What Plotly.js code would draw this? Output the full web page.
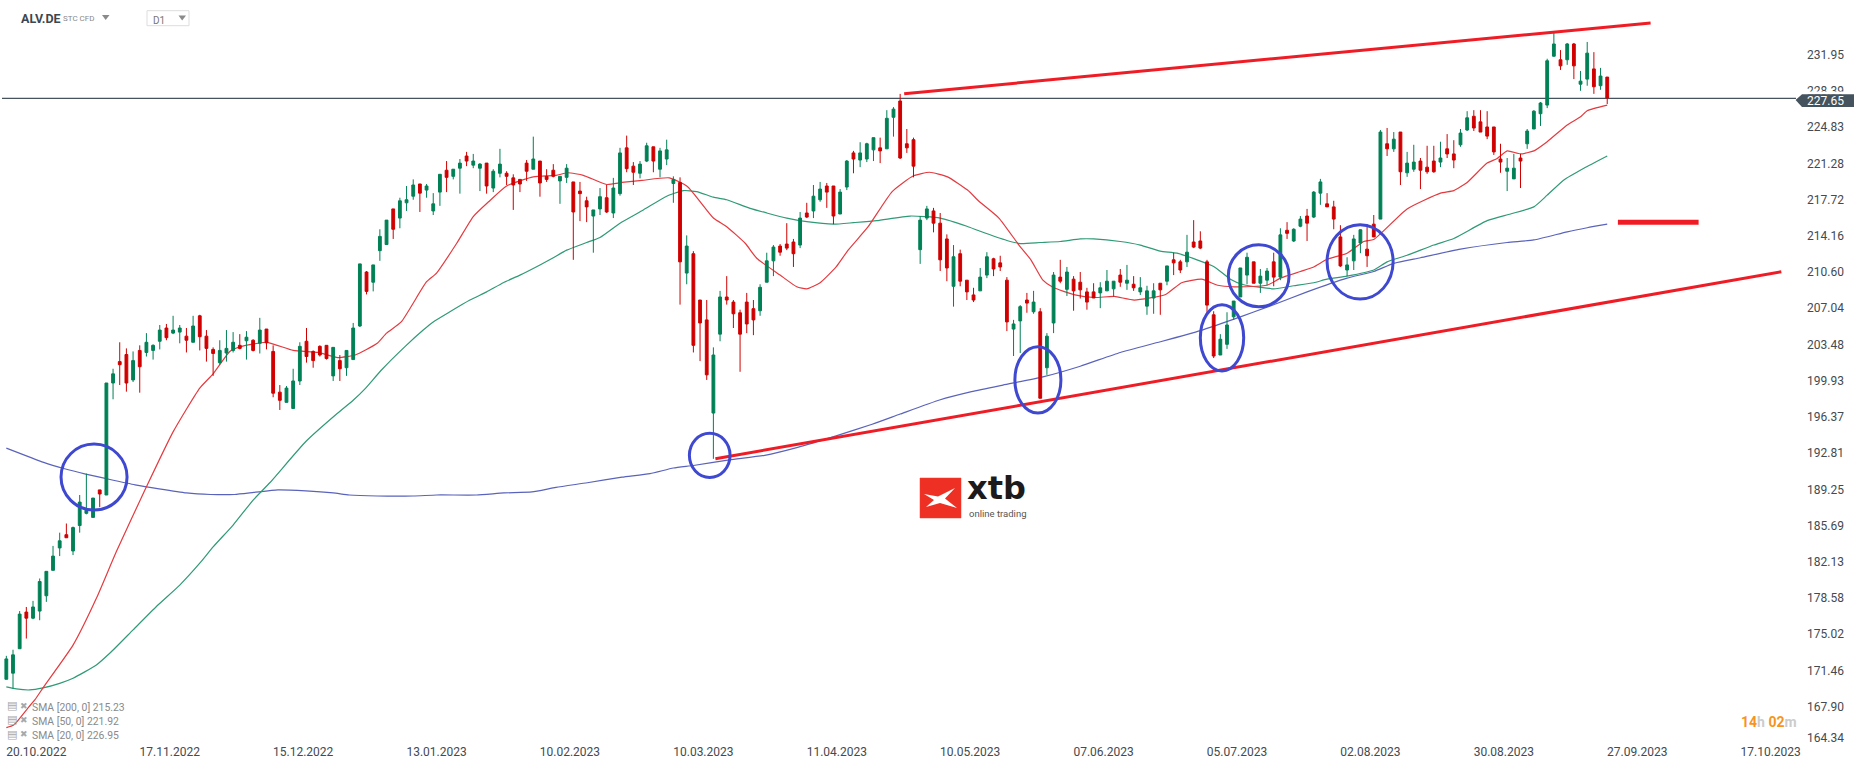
<!DOCTYPE html>
<html><head><meta charset="utf-8">
<script src="https://cdn.plot.ly/plotly-3.0.1.min.js"></script>
<style>html,body{margin:0;padding:0;background:#fff}#chart{width:1866px;height:767px}</style>
</head><body><div id="chart"></div>
<script>
const opens=[170.6,171.2,173.6,177.2,176.6,177.3,178.8,181.3,183.5,184.8,
183.2,185.7,186.9,186.5,189.2,188.7,199.7,201.8,202.5,200.0,
202.9,202.7,202.9,203.8,205.1,204.6,204.7,204.3,203.7,206.3,
204.3,203.0,201.7,202.65,202.9,203.4,203.85,203.9,203.6,205.0,
202.8,198.8,197.8,197.2,199.9,203.8,202.8,203.3,203.4,200.4,
201.9,201.2,202.0,205.3,210.6,209.6,212.7,213.3,216.8,215.9,
217.4,218.05,219.25,218.65,216.6,218.45,220.6,220.0,220.8,222.0,
221.1,220.8,221.3,218.85,220.3,220.3,219.85,219.7,221.3,220.7,
221.5,220.0,220.6,219.55,219.9,219.45,218.55,217.6,216.1,216.8,
217.9,216.4,218.3,222.8,221.0,220.3,221.5,222.9,220.7,221.7,
219.3,219.4,210.5,212.4,207.85,205.9,196.75,204.5,208.15,207.65,
206.6,207.65,207.0,206.8,209.6,211.7,213.15,213.35,213.55,213.25,
216.4,216.6,217.7,219.05,219.05,216.3,218.95,222.3,221.6,221.7,
222.6,222.8,222.7,225.8,227.4,223.2,223.6,212.8,215.9,216.6,
215.4,213.85,209.2,212.4,209.8,208.35,208.75,210.3,211.9,211.5,
209.8,205.0,205.8,207.85,206.7,206.7,201.2,205.6,210.1,208.9,
209.9,209.6,208.65,208.65,208.55,208.75,208.95,210.3,209.5,209.4,
208.65,207.25,208.05,209.5,209.7,211.8,211.6,211.6,213.55,213.65,
211.6,206.4,202.45,203.5,206.2,208.15,210.3,211.6,209.5,209.8,
211.6,210.1,214.7,213.65,215.1,216.1,216.0,218.35,217.3,217.0,
214.05,210.8,211.7,213.45,212.85,215.3,215.8,223.2,222.7,224.35,
220.35,220.7,221.5,220.9,221.5,221.4,222.7,222.2,223.1,224.55,
225.9,225.35,224.85,224.85,221.7,220.5,219.75,221.8,223.2,224.65,
226.15,227.0,231.8,231.45,231.45,233.0,229.05,229.55,230.55,228.9,229.75];
const highs=[172.9,173.5,177.3,177.7,178.3,180.5,181.2,183.7,185.0,185.9,
185.6,188.7,190.8,188.4,189.2,199.7,201.1,203.7,203.1,202.8,
203.4,204.6,203.5,205.4,205.5,206.3,205.4,205.1,206.3,206.4,
204.9,203.2,203.9,204.9,204.7,204.5,204.8,204.0,206.1,205.0,
203.4,199.5,199.4,201.1,203.7,205.1,202.9,203.4,203.4,203.2,
202.45,202.9,205.6,211.4,210.7,211.3,214.8,215.7,216.8,217.9,
219.05,219.7,219.25,219.25,218.35,220.2,221.5,220.7,221.7,222.4,
222.2,221.3,221.3,220.7,222.7,220.5,220.2,219.7,221.6,223.9,
221.5,220.7,221.2,220.0,221.2,219.45,219.45,218.0,216.7,218.85,
219.15,219.85,222.8,224.0,221.4,221.5,223.3,222.9,222.8,223.6,
220.0,219.9,214.2,212.65,207.85,207.85,203.2,208.75,210.2,207.85,
206.9,208.55,207.85,209.4,212.5,213.25,213.35,215.4,213.85,216.5,
217.4,219.15,219.45,219.35,219.05,218.75,221.6,222.5,223.35,223.3,
223.8,223.8,226.5,226.8,228.1,224.65,223.8,216.1,217.1,216.9,
216.4,214.3,213.25,212.8,209.8,209.05,211.0,212.55,212.0,212.2,
210.1,205.9,207.35,208.55,208.75,207.05,204.6,210.6,211.8,211.1,
210.2,210.6,209.05,209.5,209.6,210.8,209.7,210.9,211.3,210.2,
210.1,209.25,209.5,209.5,211.2,212.5,211.8,214.25,215.7,214.6,
211.8,206.75,204.5,206.65,207.75,211.0,212.5,211.6,210.9,211.0,
212.5,214.9,215.5,214.9,216.1,216.8,218.55,219.75,218.35,217.6,
215.2,212.05,214.25,214.8,215.3,216.2,224.55,224.75,224.35,224.35,
222.4,223.1,221.8,223.0,223.0,223.4,224.15,223.55,224.65,226.4,
226.5,226.5,226.4,224.85,223.2,221.8,222.2,222.2,224.65,226.5,
227.3,231.55,234.2,232.4,233.1,233.1,230.35,233.2,232.2,230.65,229.75];
const lows=[170.6,169.7,173.6,174.6,176.5,176.4,178.2,181.3,182.7,184.5,
182.8,185.0,186.8,186.5,187.5,188.7,198.1,199.5,198.85,199.8,
198.75,202.3,202.0,203.0,203.9,204.5,203.6,202.7,203.7,202.9,
201.8,200.4,201.5,201.8,202.7,203.0,202.0,202.8,202.6,203.0,
198.3,197.05,197.8,197.2,199.5,201.7,201.2,202.3,202.0,199.9,
199.9,200.4,202.0,205.2,208.4,208.7,211.7,213.3,213.85,214.9,
216.6,217.7,216.5,217.9,216.2,217.1,218.45,219.7,218.3,221.0,
220.8,218.55,218.3,218.45,219.9,219.15,216.7,218.45,219.55,220.7,
218.0,219.45,219.9,217.3,219.35,211.8,215.6,215.5,212.5,216.2,
216.4,215.9,218.1,220.4,219.15,219.8,221.4,220.4,219.9,221.1,
217.4,207.4,209.4,202.7,201.85,200.0,192.25,203.8,207.4,205.1,
200.8,204.6,204.4,206.3,209.6,210.2,212.2,212.75,211.1,212.95,
215.9,215.9,217.5,216.9,215.3,216.3,218.65,220.3,220.9,221.4,
221.5,221.3,222.7,223.9,221.7,222.3,219.9,211.4,215.7,214.5,
210.7,209.7,207.2,209.2,207.85,207.65,208.75,210.0,210.2,210.7,
204.8,202.35,202.65,206.6,206.5,198.2,200.5,204.6,209.5,208.25,
206.8,208.0,206.9,208.05,207.05,208.75,208.15,209.15,208.85,208.75,
208.35,206.4,206.5,206.4,209.3,210.3,210.5,211.1,212.95,212.85,
206.4,202.15,202.45,203.05,205.9,208.15,209.4,209.5,208.55,209.3,
209.2,209.8,213.85,213.55,215.0,213.65,215.9,217.2,217.0,214.8,
211.1,210.2,210.8,212.45,211.1,214.05,215.8,222.0,222.4,219.15,
219.95,220.45,218.75,220.25,220.35,220.9,221.8,220.8,222.9,224.45,
224.45,224.35,223.65,222.1,220.35,218.55,219.75,218.85,222.7,224.65,
224.95,226.7,231.75,230.45,230.95,229.55,228.4,228.9,228.1,228.5,227.1];
const closes=[172.6,173.0,177.0,176.6,177.7,180.2,181.2,182.7,184.2,184.5,
185.5,188.0,187.2,188.4,188.8,199.7,200.6,201.5,199.7,201.9,
201.3,203.7,203.4,204.9,204.15,204.9,205.1,203.9,205.3,204.25,
203.1,202.6,202.9,203.1,203.7,203.1,204.2,202.9,204.9,203.65,
198.7,198.0,199.2,199.9,203.3,202.3,201.9,202.45,202.1,203.2,
201.1,202.9,205.1,211.4,208.7,211.3,214.1,215.7,214.8,217.6,
217.7,219.15,218.35,219.05,217.3,220.2,219.9,220.7,221.3,221.5,
221.5,221.2,219.05,220.5,221.2,220.0,219.15,219.25,220.5,221.7,
219.35,219.7,220.0,220.0,220.8,216.5,218.3,217.0,216.7,218.0,
216.5,218.85,222.3,220.75,220.4,221.2,223.0,221.5,222.5,222.6,
219.7,211.6,213.15,203.4,205.6,200.5,202.45,208.15,207.85,206.5,
204.5,205.5,205.9,209.1,211.7,213.05,212.55,212.95,212.4,215.9,
216.0,218.05,218.75,218.45,216.1,218.45,221.5,221.7,222.3,223.2,
223.8,222.5,225.7,226.6,221.8,222.8,221.0,215.7,216.8,215.4,
211.8,211.0,212.1,209.7,208.65,207.85,210.1,212.1,210.9,211.1,
205.7,205.5,207.2,207.55,207.65,198.2,204.3,210.3,209.7,210.6,
208.75,208.85,207.65,208.05,209.05,209.7,209.7,209.6,209.8,209.05,
209.05,208.75,208.75,208.85,211.2,211.5,210.8,212.55,213.05,212.95,
207.35,202.35,204.0,205.4,207.75,211.0,212.05,209.5,210.2,210.7,
210.1,214.25,214.4,214.8,215.8,215.4,218.45,219.45,217.0,215.8,
211.2,211.3,213.85,214.75,212.2,214.05,224.35,222.7,223.65,220.45,
221.3,221.4,220.6,220.45,220.45,221.8,222.2,221.6,224.25,225.75,
224.75,224.35,223.95,222.4,221.4,220.8,220.8,221.5,224.45,226.4,
227.2,231.35,233.0,230.85,233.0,230.85,229.35,232.1,228.8,229.85,227.7];

const sma200Bars=[0,5.6,8.6,11.9,15,19.3,22.9,27,30.6,34.2,37.1,40.7,44.9,49,51.4,55.6,61,64.5,70.5,74.6,78.8,82.4,87.1,92.3,96.5,100,103,108.4,113.7,118.5,124.4,129.8,134,139.9,144.7,149.4,155.4,161,167,173,179,185,189,195,201,205,208,212,218,225,229,234,237,240];
const sma200=[193.3,191.9,191.3,190.75,190.3,189.7,189.3,188.9,188.75,188.75,188.95,189.2,189.1,188.9,188.7,188.6,188.6,188.7,188.7,188.9,189.0,189.45,189.9,190.45,190.8,191.35,191.6,192.15,192.6,193.35,194.5,195.65,196.65,198.03,198.85,199.5,200.3,201.35,202.7,203.75,204.85,206.2,207.15,208.65,210.0,210.65,211.45,212.0,212.85,213.5,213.75,214.55,214.95,215.3];
const sma50Bars=[0,1.5,3.5,5.5,8,10,13.5,15.5,19,22.5,26,29,31,34,37,39.5,44.9,49.6,52,53.8,56.2,59.8,62.5,64,66.5,69.5,72,74.5,77,80,82,84,87,89,92,95.5,99,101.5,103.5,106,108,111.5,114,117,120,124,127,130.5,135.5,140,144,146,150,152,155,158,161,163,167,170,173,175.5,178.5,181,183.5,185.5,190,193,196,198,201,205,207,210,214,217,222,225.5,229,231,233.5,236.5,240];
const sma50=[169.85,169.65,169.55,169.75,170.2,170.7,172.0,173.15,175.45,177.75,179.85,182.0,183.6,185.75,188.2,189.9,193.95,196.7,198.0,199.15,200.95,203.3,204.9,205.7,206.7,207.85,208.65,209.55,210.3,211.3,212.0,212.75,213.5,214.0,215.4,216.7,218.05,218.6,218.5,217.95,217.7,216.85,216.4,215.9,215.55,215.3,215.45,215.65,216.1,215.9,215.1,214.6,213.7,213.4,213.5,213.6,213.85,213.85,213.6,213.25,212.65,212.45,211.8,211.15,209.9,209.35,208.95,209.25,209.55,209.9,210.2,210.8,211.6,212.25,213.25,213.9,215.65,216.3,217.0,218.15,219.65,220.8,222.0];
const sma20Bars=[0,1.1,3.2,4.3,5.6,10,13.5,16.5,21,25,29,31,33.5,35,39,43,46.7,49.7,52.3,55.6,57,59.2,63,64.5,67.5,70,72.3,75,79,82.4,84.2,86.5,90,92.3,95.3,99.4,102.1,106,108,110.8,112.5,116,118.5,120,122,124.4,126.2,129.2,132.8,136,138.4,141.1,144.1,145.9,148.8,151.8,153.6,155.4,156.9,160.2,163.1,166.1,169.1,173.8,176.2,179.2,181.6,184,189,191,194,196,198,201,203.5,205,210,215,217,219,222,223.5,225,227,229,231,234,236,237,240];
const sma20=[165.85,166.1,167.75,168.6,169.85,173.95,178.55,183.15,189.5,194.9,199.2,200.6,202.8,203.25,203.7,202.9,202.7,202.2,202.45,203.6,204.6,205.7,209.65,210.5,213.4,216.05,217.5,219.05,219.95,220.1,220.35,220.1,219.2,219.4,219.6,219.85,219.0,215.9,215.05,213.4,211.95,210.3,209.15,208.95,209.55,211.1,212.75,215.05,218.5,220.05,220.4,219.95,218.65,217.5,215.9,213.25,211.8,209.8,209.1,208.35,208.1,208.2,207.85,208.4,209.55,209.9,209.3,209.15,209.3,210.0,210.65,211.1,211.85,212.45,213.6,213.8,216.8,218.35,218.6,219.4,221.3,221.75,222.5,222.2,222.5,223.4,225.05,225.85,226.45,227.0];

const upperTrendBars=[134.6,246.5], upperTrend=[228.12,235.06];
const lowerTrendBars=[106.3,266.1], lowerTrend=[192.26,210.63];
const supportBars=[241.6,253.7], support=[215.48,215.48];

const ringBarFrom=[8.2,102.4,151.2,179.0,183.2,198.0];
const ringBarTo=[18.1,108.5,158.1,185.5,192.3,207.9];
const ringLow=[187.22,190.43,196.75,200.88,207.19,207.95];
const ringHigh=[193.7,194.76,203.26,207.39,213.28,215.25];

const dateBars=[0,20,40,60,80,100,120,140,160,180,200,220,240,260];
const dateLabels=["20.10.2022","17.11.2022","15.12.2022","13.01.2023","10.02.2023","10.03.2023","11.04.2023","10.05.2023","07.06.2023","05.07.2023","02.08.2023","30.08.2023","27.09.2023","17.10.2023"];
const priceTicks=[231.95,228.39,224.83,221.28,217.72,214.16,210.60,207.04,203.48,199.93,196.37,192.81,189.25,185.69,182.13,178.58,175.02,171.46,167.90,164.86];
const priceLabels=["231.95","228.39","224.83","221.28","217.72","214.16","210.60","207.04","203.48","199.93","196.37","192.81","189.25","185.69","182.13","178.58","175.02","171.46","167.90","164.34"];
const lastPrice=227.65;
const smaLegend=["SMA [200, 0] 215.23","SMA [50, 0] 221.92","SMA [20, 0] 226.95"];

const PW=1800, PH=743;
const px=x=>x/PW, py=y=>1-y/PH;
const bars=opens.map((_,i)=>i);
const RED="#ef1c25";
const line=(x,y,color,name)=>({type:'scatter',mode:'lines',x,y,name,line:{color,width:1.2,shape:'spline',smoothing:0.5},xaxis:'x',yaxis:'y',hoverinfo:'skip'});
const thick=(x,y,w)=>({type:'scatter',mode:'lines',x,y,line:{color:RED,width:w},xaxis:'x',yaxis:'y2',hoverinfo:'skip'});
const traces=[
 line(sma200Bars,sma200,'#5a63bb','SMA 200'),
 line(sma50Bars,sma50,'#2f9a76','SMA 50'),
 line(sma20Bars,sma20,'#e43a3f','SMA 20'),
 {type:'candlestick',x:bars,open:opens,high:highs,low:lows,close:closes,xaxis:'x',yaxis:'y2',
  increasing:{line:{color:'#008055',width:1},fillcolor:'#008055'},
  decreasing:{line:{color:'#d00000',width:1},fillcolor:'#d00000'},hoverinfo:'skip'},
 thick(upperTrendBars,upperTrend,3),
 thick(lowerTrendBars,lowerTrend,3),
 thick(supportBars,support,5)
];
const shapes=[
 {type:'line',xref:'paper',yref:'y',x0:px(2),x1:px(1796),y0:lastPrice,y1:lastPrice,line:{color:'#44535e',width:1.2},layer:'below'},
 {type:'rect',xref:'paper',yref:'paper',x0:px(1803),x1:px(1856),y0:py(91.5),y1:py(94.5),fillcolor:'#ffffff',line:{width:0},layer:'above'},
 {type:'path',xref:'paper',yref:'paper',fillcolor:'#44535e',line:{width:0},layer:'above',
  path:`M${px(1795.6)},${py(100)} L${px(1802)},${py(94.3)} L${px(1854)},${py(94.3)} L${px(1854)},${py(107)} L${px(1802)},${py(107)} Z`},
 {type:'path',xref:'paper',yref:'paper',fillcolor:'#8a8a8a',line:{width:0},path:`M${px(102)},${py(15)} L${px(109.5)},${py(15)} L${px(105.7)},${py(20)} Z`},
 {type:'rect',xref:'paper',yref:'paper',x0:px(147),x1:px(189),y0:py(10.7),y1:py(25.7),line:{color:'#dddddd',width:1},fillcolor:'#fff'},
 {type:'path',xref:'paper',yref:'paper',fillcolor:'#8a8a8a',line:{width:0},path:`M${px(178.5)},${py(15.5)} L${px(186)},${py(15.5)} L${px(182.2)},${py(20.5)} Z`},
 {type:'rect',xref:'paper',yref:'paper',x0:px(920),x1:px(961),y0:py(478),y1:py(518),line:{color:'#ee3a2e',width:0.5},fillcolor:'#ee3024',layer:'above'},
 {type:'path',xref:'paper',yref:'paper',fillcolor:'#ffffff',line:{width:0},layer:'above',
  path:`M${px(924)},${py(494)} L${px(938)},${py(496.5)} L${px(955)},${py(488)} L${px(945)},${py(498.5)} L${px(957)},${py(508)} L${px(940)},${py(503)} L${px(926)},${py(507)} L${px(934)},${py(500)} Z`}
];
ringBarFrom.forEach((b,i)=>shapes.push({type:'circle',xref:'x',yref:'y',x0:b,x1:ringBarTo[i],y0:ringLow[i],y1:ringHigh[i],line:{color:'#3e48d0',width:3},layer:'above'}));
const ann=(x,y,text,size,color,extra)=>Object.assign({xref:'paper',yref:'paper',x:px(x),y:py(y),text,showarrow:false,xanchor:'left',yanchor:'middle',font:{size,color,family:'Roboto'},borderpad:0},extra||{});
const annotations=[
 ann(19.5,18.5,'<b>ALV.DE</b>',12.5,'#3c4750'),
 ann(62,19,'STC CFD',8,'#8a8a8a'),
 ann(152,20,'D1',10,'#777'),
 ann(1806,100.5,lastPrice.toFixed(2),12,'#ffffff'),
 ann(966,488,'<b>xtb</b>',32,'#1c1a1a',{font:{size:32,color:'#1c1a1a',family:'DejaVu Sans'}}),
 ann(967.5,513.5,'online trading',9.5,'#555555'),
 ann(1740,722,'<b><span style="color:#f7941d">14</span><span style="color:#cccccc">h</span> <span style="color:#f7941d">02</span><span style="color:#cccccc">m</span></b>',14,'#cccccc')
];
smaLegend.forEach((t,i)=>{
 const y=707+14.4*i;
 annotations.push(ann(31,y,t,10.4,'#8a8a8a'));
 annotations.push(ann(6,y-1.5,'▤',11,'#a8a8a8',{font:{size:11,color:'#a8a8a8',family:'DejaVu Sans'}}));
 annotations.push(ann(19,y-1.5,'✖',9,'#a8a8a8',{font:{size:9,color:'#a8a8a8',family:'DejaVu Sans'}}));
});
const yr=[164.34,237.32];
const layout={width:1866,height:767,margin:{l:0,r:66,t:0,b:24,pad:0},paper_bgcolor:'#fff',plot_bgcolor:'#fff',showlegend:false,hovermode:false,boxgap:0.4,
 font:{family:'Roboto',size:12,color:'#444a50'},
 xaxis:{type:'linear',range:[-0.949,268.9],tickmode:'array',tickvals:dateBars,ticktext:dateLabels,ticklabelshift:30,ticks:'',showgrid:false,zeroline:false,showline:false,rangeslider:{visible:false},tickfont:{family:'Roboto',size:12,color:'#444a50'},fixedrange:true},
 yaxis:{range:yr,side:'right',tickmode:'array',tickvals:priceTicks,ticktext:priceLabels,ticks:'',ticklabelstandoff:6,showgrid:false,zeroline:false,showline:false,tickfont:{family:'Roboto',size:12,color:'#444a50'},fixedrange:true},
 yaxis2:{range:yr,overlaying:'y',side:'right',visible:false,fixedrange:true},
 shapes,annotations};
Plotly.newPlot('chart',traces,layout,{displayModeBar:false,staticPlot:true});
</script></body></html>
